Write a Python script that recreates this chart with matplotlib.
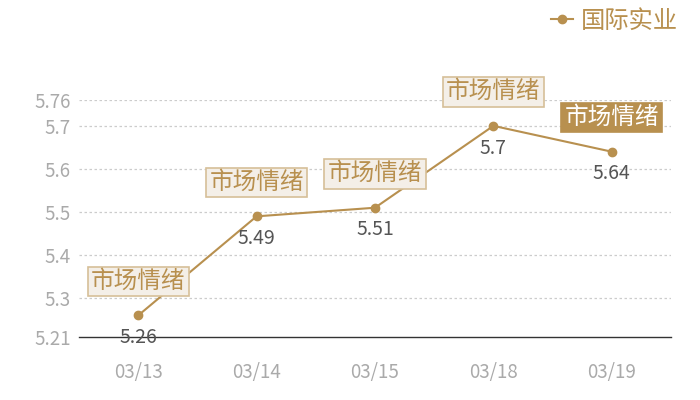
import matplotlib
matplotlib.use("Agg")
import matplotlib.pyplot as plt

plt.rcParams['font.family'] = ['Noto Sans CJK SC', 'DejaVu Sans']

dates = ["03/13", "03/14", "03/15", "03/18", "03/19"]
values = [5.26, 5.49, 5.51, 5.70, 5.64]
series_name = "国际实业"
note_text = "市场情绪"
y_ticks = [5.21, 5.3, 5.4, 5.5, 5.6, 5.7, 5.76]
y_tick_labels = ["5.21", "5.3", "5.4", "5.5", "5.6", "5.7", "5.76"]
value_labels = ["5.26", "5.49", "5.51", "5.7", "5.64"]

gold = "#b8904f"
gray = "#aaaaaa"

fig = plt.figure(figsize=(7, 4), dpi=100)
ax = fig.add_axes([79/700, 63/400, (671-79)/700, (337-100)/400])
x = list(range(len(dates)))
ax.set_xlim(-0.5, len(dates) - 0.5)
ax.set_ylim(y_ticks[0], y_ticks[-1])

for t in y_ticks[1:]:
    ax.axhline(t, color="#cccccc", lw=0.9, ls=(0, (2, 2)), zorder=0)

line, = ax.plot(x, values, color=gold, lw=1.5, marker="o", markersize=6,
                label=series_name, zorder=2)

for xi, v, lab in zip(x, values, value_labels):
    ax.annotate(lab, (xi, v), xytext=(0, -16), textcoords="offset points",
                ha="center", va="center", fontsize=14, color="#555555", zorder=3)

for i, (xi, v) in enumerate(zip(x, values)):
    last = i == len(x) - 1
    ax.annotate(note_text, (xi, v), xytext=(0, 24.5), textcoords="offset points",
                ha="center", va="center", fontsize=17,
                color="white" if last else gold,
                bbox=dict(boxstyle="square,pad=0.14",
                          fc=gold if last else "#f4efe8",
                          ec=gold if last else "#d6bf98", lw=1.2),
                zorder=4)

ax.set_yticks(y_ticks)
ax.set_yticklabels(y_tick_labels)
ax.set_xticks(x)
ax.set_xticklabels(dates)
ax.tick_params(axis="both", length=0, labelsize=13.5, colors=gray)
ax.tick_params(axis="y", pad=6)
ax.tick_params(axis="x", pad=18)
for s in ["top", "right", "left"]:
    ax.spines[s].set_visible(False)
ax.spines["bottom"].set_color("#333333")
ax.spines["bottom"].set_linewidth(1)

leg = fig.legend(handles=[line], labels=[series_name], loc="upper right",
                 bbox_to_anchor=(1.0, 1.035), frameon=False, fontsize=17.5,
                 handlelength=0.9, handletextpad=0.35)
for t in leg.get_texts():
    t.set_color(gold)

fig.savefig("out.png", dpi=100)
